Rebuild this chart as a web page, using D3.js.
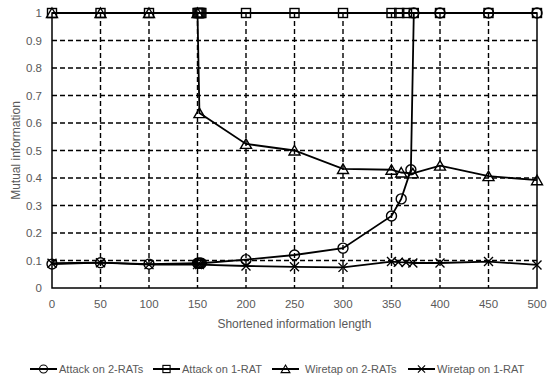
<!DOCTYPE html>
<html>
<head>
<meta charset="utf-8">
<script src="https://cdn.jsdelivr.net/npm/d3@7"></script>
<style>
  body { margin: 0; background: #fff; }
  svg text { font-family: "Liberation Sans", Arial, sans-serif; fill: #595959; }
</style>
</head>
<body>
<svg id="chart" width="550" height="377"></svg>
<script>
// values
const seriesNames = ["Attack on 2-RATs", "Attack on 1-RAT", "Wiretap on 2-RATs", "Wiretap on 1-RAT"];
const seriesShapes = ["circle", "square", "triangle", "cross"];

const attack2X = [0, 50, 100, 150, 151, 152, 153, 154, 200, 250, 300, 350, 360, 370, 373, 400, 450, 500];
const attack2Y = [0.087, 0.092, 0.087, 0.09, 0.09, 0.09, 0.09, 0.09, 0.103, 0.12, 0.145, 0.262, 0.324, 0.43, 1, 1, 1, 1];

const attack1X = [0, 50, 100, 150, 151, 152, 153, 154, 200, 250, 300, 350, 358, 366, 373, 400, 450, 500];
const attack1Y = [1, 1, 1, 1, 1, 1, 1, 1, 1, 1, 1, 1, 1, 1, 1, 1, 1, 1];

const wiretap2X = [0, 50, 100, 150, 152, 200, 250, 300, 350, 360, 372, 400, 450, 500];
const wiretap2Y = [1, 1, 1, 1, 0.636, 0.524, 0.5, 0.433, 0.43, 0.42, 0.417, 0.445, 0.407, 0.392];

const wiretap1X = [0, 50, 100, 150, 152, 200, 250, 300, 350, 357, 365, 372, 400, 450, 500];
const wiretap1Y = [0.09, 0.092, 0.085, 0.085, 0.085, 0.08, 0.077, 0.075, 0.096, 0.094, 0.093, 0.091, 0.091, 0.096, 0.084];

const xTicks = [0, 50, 100, 150, 200, 250, 300, 350, 400, 450, 500];
const yTicks = [0, 0.1, 0.2, 0.3, 0.4, 0.5, 0.6, 0.7, 0.8, 0.9, 1];

const xs = [attack2X, attack1X, wiretap2X, wiretap1X];
const ys = [attack2Y, attack1Y, wiretap2Y, wiretap1Y];

const margin = { top: 13, right: 13, bottom: 89, left: 52 };
const width = 550 - margin.left - margin.right;
const height = 377 - margin.top - margin.bottom;

const svg = d3.select("#chart");
const chart = svg.append("g").attr("transform", `translate(${margin.left}, ${margin.top})`);

const x = d3.scaleLinear().domain([0, 500]).range([0, width]);
const y = d3.scaleLinear().domain([0, 1]).range([height, 0]);

// dashed grid
chart.selectAll(".hgrid")
    .data(yTicks.slice(1, -1))
    .join("line")
    .attr("x1", 0).attr("x2", width)
    .attr("y1", d => y(d)).attr("y2", d => y(d))
    .attr("stroke", "#000").attr("stroke-width", 1.4)
    .attr("stroke-dasharray", "5 3");

chart.selectAll(".vgrid")
    .data(xTicks.slice(1, -1))
    .join("line")
    .attr("x1", d => x(d)).attr("x2", d => x(d))
    .attr("y1", 0).attr("y2", height)
    .attr("stroke", "#000").attr("stroke-width", 1.4)
    .attr("stroke-dasharray", "5 3");

// plot frame
chart.append("rect")
    .attr("width", width).attr("height", height)
    .attr("fill", "none").attr("stroke", "#000").attr("stroke-width", 1.5);

// tick labels
chart.selectAll(".ytick")
    .data(yTicks)
    .join("text")
    .attr("x", -10).attr("y", d => y(d))
    .attr("text-anchor", "end").attr("dominant-baseline", "central")
    .attr("font-size", 11.5)
    .text(d => d3.format("~g")(d));

chart.selectAll(".xtick")
    .data(xTicks)
    .join("text")
    .attr("x", d => x(d)).attr("y", height + 16)
    .attr("text-anchor", "middle").attr("dominant-baseline", "central")
    .attr("font-size", 11.5)
    .text(d => d);

chart.append("text")
    .attr("x", width / 2).attr("y", height + 36)
    .attr("text-anchor", "middle").attr("dominant-baseline", "central")
    .attr("font-size", 12)
    .text("Shortened information length");

svg.append("text")
    .attr("transform", `translate(16, ${margin.top + height / 2}) rotate(-90)`)
    .attr("text-anchor", "middle").attr("dominant-baseline", "central")
    .attr("font-size", 12)
    .text("Mutual information");

const drawMarker = (g, shape) => {
    if (shape === "circle") {
        g.append("circle").attr("r", 5);
    } else if (shape === "square") {
        g.append("rect").attr("x", -4.5).attr("y", -4.5).attr("width", 9).attr("height", 9);
    } else if (shape === "triangle") {
        g.append("path").attr("d", "M0,-5L5.5,4.5L-5.5,4.5Z");
    } else {
        g.append("path").attr("d", "M-4.5,-4.5L4.5,4.5M-4.5,4.5L4.5,-4.5");
    }
    g.selectAll("*").attr("fill", "none").attr("stroke", "#000").attr("stroke-width", 1.4);
};

const line = d3.line().x(d => x(d[0])).y(d => y(d[1]));

seriesNames.forEach((name, i) => {
    const pts = xs[i].map((v, j) => [v, ys[i][j]]);
    chart.append("path")
        .attr("d", line(pts))
        .attr("fill", "none").attr("stroke", "#000").attr("stroke-width", 1.8);
    pts.forEach(p => {
        const g = chart.append("g").attr("transform", `translate(${x(p[0])}, ${y(p[1])})`);
        drawMarker(g, seriesShapes[i]);
    });
});

// legend
const legendX = [30, 153, 272, 408];
const legend = svg.selectAll(".legend")
    .data(seriesNames)
    .join("g")
    .attr("transform", (_, i) => `translate(${legendX[i]}, 369)`);

legend.append("line")
    .attr("x1", 0).attr("x2", 27)
    .attr("stroke", "#000").attr("stroke-width", 2);

legend.each(function(_, i) {
    const g = d3.select(this).append("g").attr("transform", "translate(13.5, 0) scale(0.8)");
    drawMarker(g, seriesShapes[i]);
});

legend.append("text")
    .attr("x", (_, i) => i === 2 ? 33 : 29).attr("y", 0)
    .attr("dominant-baseline", "central")
    .attr("font-size", 11)
    .text(d => d);
</script>
</body>
</html>
